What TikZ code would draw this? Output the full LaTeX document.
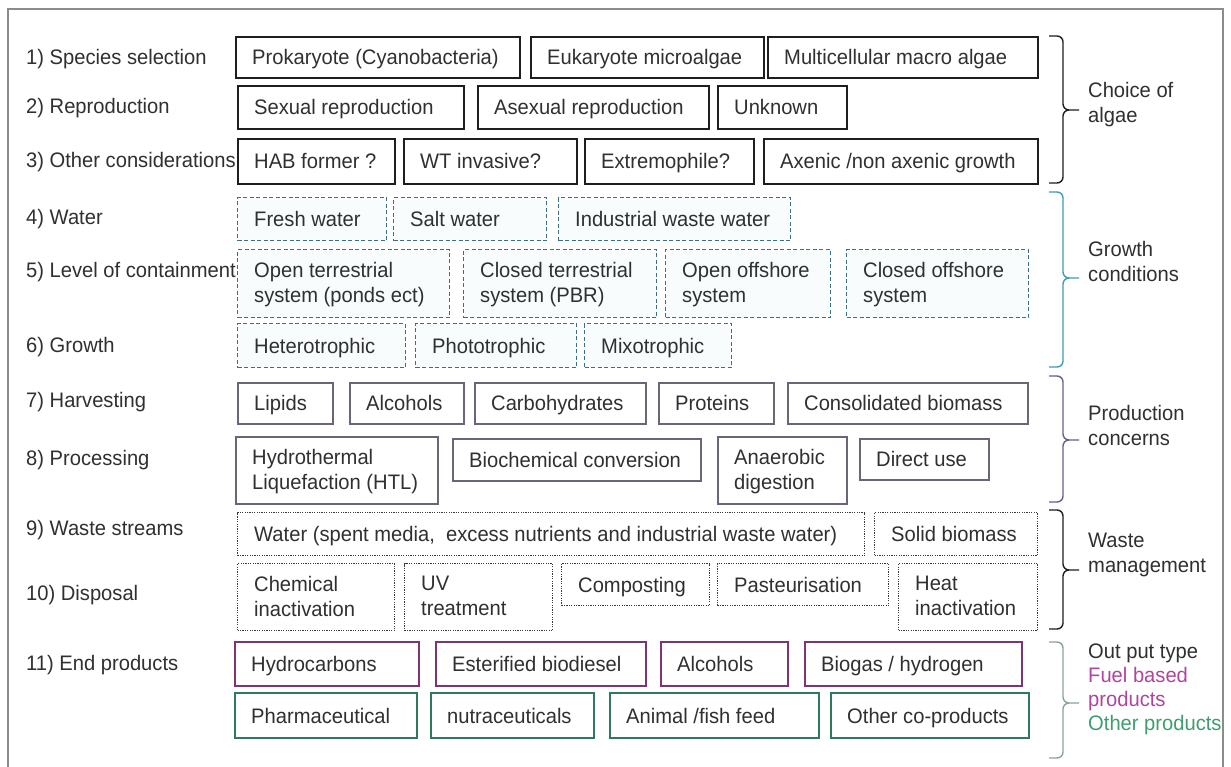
\documentclass[tikz,border=0pt]{standalone}
\usepackage{fontspec}
\setmainfont{Liberation Sans}[FakeStretch=0.96]
\definecolor{textc}{HTML}{303030}
\definecolor{blackc}{HTML}{1E1E1E}
\definecolor{tealc}{HTML}{3B6F86}
\definecolor{tealfill}{HTML}{F8FCFD}
\definecolor{tealbr}{HTML}{3E9CB0}
\definecolor{purpc}{HTML}{6D6478}
\definecolor{purpbr}{HTML}{6B5B8E}
\definecolor{dotc}{HTML}{3A3A3A}
\definecolor{magc}{HTML}{7E3472}
\definecolor{grnc}{HTML}{2F7A5C}
\definecolor{brfive}{HTML}{8AA595}
\definecolor{fuelc}{HTML}{B0449E}
\definecolor{othc}{HTML}{3E9E70}
\definecolor{framec}{HTML}{8C8C8C}
\tikzset{
  bxblack/.style={draw=blackc, line width=1.6pt},
  bxteal/.style={draw=tealc, line width=1.3pt, dash pattern=on 4pt off 2.5pt, fill=tealfill},
  bxpurple/.style={draw=purpc, line width=1.5pt},
  bxdot/.style={draw=dotc, line width=1.3pt, dash pattern=on 1.2pt off 1.2pt},
  bxmag/.style={draw=magc, line width=2.2pt},
  bxgreen/.style={draw=grnc, line width=2.2pt},
  intxt/.style={align=left, inner sep=0pt, text=textc,
     execute at begin node=\strut, execute at end node=\strut},
  rowlbl/.style={anchor=west, inner sep=0pt, text=textc,
     execute at begin node=\strut},
  grplbl/.style={anchor=west, align=left, inner sep=0pt, text=textc},
  brc/.style={line width=1.4pt}
}
\newcommand\algbox[7]{%
  \pgfmathsetmacro\bw{#4-#2}\pgfmathsetmacro\bh{#5-#3}%
  \node[#6, minimum width=\bw pt, minimum height=\bh pt, anchor=north west, inner sep=0pt] (#1) at (#2,#3) {};
  \node[intxt, anchor=west] (#1t) at ([xshift=17pt,yshift=-2.5pt]#1.west) {#7};}
\newcommand\algbrace[5]{%
  \draw[brc,#4] (1049,#1) -- (1057,#1) to[out=0,in=90] (1063,#1+6) -- (1063,#2-6)
     to[out=-90,in=180] (1069,#2) -- (1079,#2);
  \draw[brc,#4] (1069,#2) to[out=180,in=90] (1063,#2+6) -- (1063,#3-6)
     to[out=-90,in=0] (1057,#3) -- (1049,#3);
  \coordinate (#5) at (1079,#2);}
\begin{document}
\begin{tikzpicture}[x=1pt, y=-1pt, font=\fontsize{21}{25}\selectfont]
\useasboundingbox (0,0) rectangle (1231,767);
\fill[white] (0,0) rectangle (1231,767);
\draw[framec, line width=2.5pt] (8,767) -- (8,9) -- (1223,9) -- (1223,767);

% row labels
\node[rowlbl] (l1) at (26,59.5) {1) Species selection};
\node[rowlbl] (l2) at (26,108.5) {2) Reproduction};
\node[rowlbl] (l3) at (26,162.5) {3) Other considerations};
\node[rowlbl] (l4) at (26,219.5) {4) Water};
\node[rowlbl] (l5) at (26,272.5) {5) Level of containment};
\node[rowlbl] (l6) at (26,347.5) {6) Growth};
\node[rowlbl] (l7) at (26,402.5) {7) Harvesting};
\node[rowlbl] (l8) at (26,460.5) {8) Processing};
\node[rowlbl] (l9) at (26,530.5) {9) Waste streams};
\node[rowlbl] (l10) at (26,595.5) {10) Disposal};
\node[rowlbl] (l11) at (26,665.5) {11) End products};

% row 1-3
\algbox{p1}{235}{36}{519}{77}{bxblack}{Prokaryote (Cyanobacteria)}
\algbox{p2}{530}{36}{763}{77}{bxblack}{Eukaryote microalgae}
\algbox{p3}{767}{36}{1037}{77}{bxblack}{Multicellular macro algae}
\algbox{r1}{237}{85}{463}{128}{bxblack}{Sexual reproduction}
\algbox{r2}{477}{85}{708}{128}{bxblack}{Asexual reproduction}
\algbox{r3}{717}{85}{846}{128}{bxblack}{Unknown}
\algbox{o1}{237}{138}{394}{183}{bxblack}{HAB former ?}
\algbox{o2}{403}{138}{576}{183}{bxblack}{WT invasive?}
\algbox{o3}{584}{138}{753}{183}{bxblack}{Extremophile?}
\algbox{o4}{763}{138}{1037}{183}{bxblack}{Axenic /non axenic growth}

% row 4-6
\algbox{w1}{237}{197}{386}{240}{bxteal}{Fresh water}
\algbox{w2}{393}{197}{546}{240}{bxteal}{Salt water}
\algbox{w3}{558}{197}{790}{240}{bxteal}{Industrial waste water}
\algbox{c1}{237}{249}{449}{317}{bxteal}{Open terrestrial\\system (ponds ect)}
\algbox{c2}{463}{249}{656}{317}{bxteal}{Closed terrestrial\\system (PBR)}
\algbox{c3}{665}{249}{830}{317}{bxteal}{Open offshore\\system}
\algbox{c4}{846}{249}{1028}{317}{bxteal}{Closed offshore\\system}
\algbox{g1}{237}{323}{405}{367}{bxteal}{Heterotrophic}
\algbox{g2}{415}{323}{576}{367}{bxteal}{Phototrophic}
\algbox{g3}{584}{323}{731}{367}{bxteal}{Mixotrophic}

% row 7-8
\algbox{h1}{237}{382}{332}{423}{bxpurple}{Lipids}
\algbox{h2}{349}{382}{463}{423}{bxpurple}{Alcohols}
\algbox{h3}{474}{382}{645}{423}{bxpurple}{Carbohydrates}
\algbox{h4}{658}{382}{773}{423}{bxpurple}{Proteins}
\algbox{h5}{787}{382}{1027}{423}{bxpurple}{Consolidated biomass}
\algbox{q1}{235}{436}{437}{503}{bxpurple}{Hydrothermal\\Liquefaction (HTL)}
\algbox{q2}{452}{438}{700}{480}{bxpurple}{Biochemical conversion}
\algbox{q3}{717}{436}{846}{503}{bxpurple}{Anaerobic\\digestion}
\algbox{q4}{859}{438}{988}{479}{bxpurple}{Direct use}

% row 9-10
\algbox{s1}{237}{512}{864}{555}{bxdot}{Water (spent media,\ \ excess nutrients and industrial waste water)}
\algbox{s2}{874}{512}{1037}{555}{bxdot}{Solid biomass}
\algbox{d1}{237}{563}{394}{630}{bxdot}{Chemical\\inactivation}
\algbox{d2}{404}{563}{552}{630}{bxdot}{UV\\treatment}
\algbox{d3}{561}{563}{709}{605}{bxdot}{Composting}
\algbox{d4}{717}{563}{888}{605}{bxdot}{Pasteurisation}
\algbox{d5}{898}{563}{1037}{630}{bxdot}{Heat\\inactivation}

% row 11-12
\algbox{e1}{234}{641}{418}{685}{bxmag}{Hydrocarbons}
\algbox{e2}{435}{641}{645}{685}{bxmag}{Esterified biodiesel}
\algbox{e3}{660}{641}{787}{685}{bxmag}{Alcohols}
\algbox{e4}{804}{641}{1021}{685}{bxmag}{Biogas / hydrogen}
\algbox{f1}{234}{692}{416}{737}{bxgreen}{Pharmaceutical}
\algbox{f2}{430}{692}{593}{737}{bxgreen}{nutraceuticals}
\algbox{f3}{609}{692}{818}{737}{bxgreen}{Animal /fish feed}
\algbox{f4}{830}{692}{1028}{737}{bxgreen}{Other co-products}

% braces
\algbrace{36}{110}{183}{blackc}{b1}
\algbrace{192}{278}{367}{tealbr}{b2}
\algbrace{376}{440}{502}{purpbr}{b3}
\algbrace{510}{570}{629}{blackc}{b4}
\algbrace{642}{703}{758}{brfive}{b5}

% group labels
\node[grplbl] (gl1) at (1088,104.5) {Choice of\\algae};
\node[grplbl] (gl2) at (1088,261) {Growth\\conditions};
\node[grplbl] (gl3) at (1088,425.5) {Production\\concerns};
\node[grplbl] (gl4) at (1088,555) {Waste\\management};
\node[grplbl, font=\fontsize{21}{24}\selectfont] (gl5) at (1088,689.5) {Out put type\\{\color{fuelc}Fuel based}\\{\color{fuelc}products}\\{\color{othc}Other products}};
\end{tikzpicture}
\end{document}
